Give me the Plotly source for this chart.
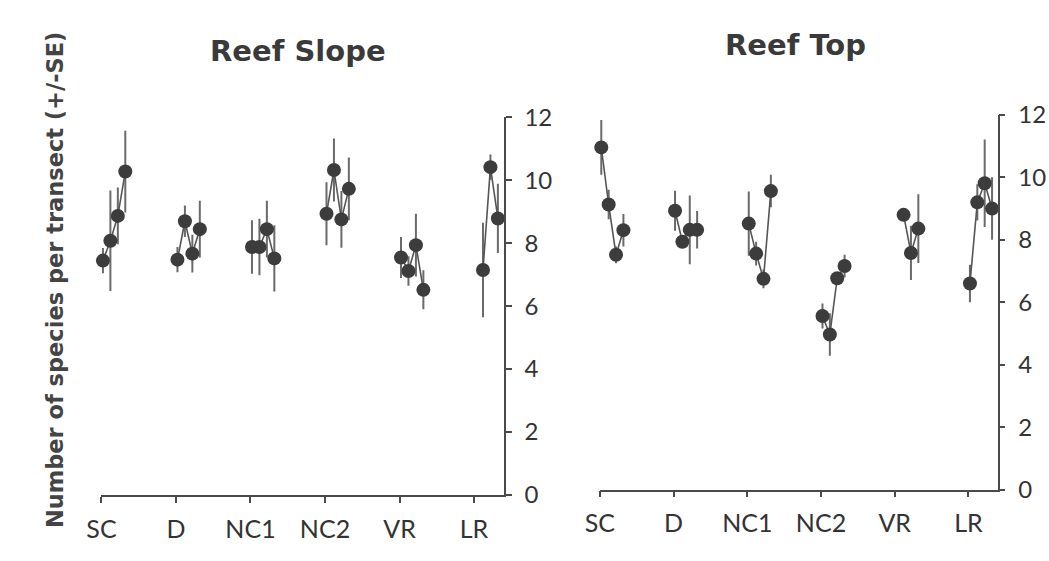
import plotly.graph_objects as go

categories = ["SC", "D", "NC1", "NC2", "VR", "LR"]
offsets = [0.02, 0.12, 0.22, 0.32]
y_ticks = [0, 2, 4, 6, 8, 10, 12]

# Reef Slope: 4 surveys per site (None = not sampled)
slope_mean = [
    [7.45, 8.08, 8.87, 10.28],
    [7.48, 8.70, 7.67, 8.45],
    [7.88, 7.88, 8.45, 7.52],
    [8.94, 10.33, 8.76, 9.73],
    [7.55, 7.12, 7.94, 6.52],
    [None, 7.15, 10.42, 8.79],
]
slope_se = [
    [0.4, 1.6, 0.9, 1.3],
    [0.4, 0.5, 0.6, 0.9],
    [0.85, 0.9, 0.9, 1.05],
    [1.0, 1.0, 0.9, 1.0],
    [0.65, 0.47, 1.0, 0.62],
    [None, 1.5, 0.4, 1.1],
]

# Reef Top
top_mean = [
    [10.96, 9.13, 7.52, 8.31],
    [8.93, 7.94, 8.32, 8.32],
    [8.52, 7.56, 6.75, 9.56],
    [5.56, 4.97, 6.77, 7.16],
    [None, 8.80, 7.58, 8.36],
    [6.60, 9.20, 9.81, 9.00],
]
top_se = [
    [0.88, 0.47, 0.27, 0.52],
    [0.64, 0.15, 1.1, 0.6],
    [1.03, 0.38, 0.3, 0.52],
    [0.4, 0.68, 0.15, 0.36],
    [None, 0.1, 0.87, 1.1],
    [0.6, 0.58, 1.4, 1.0],
]


def flatten(means, ses):
    xs, ys, es = [], [], []
    for gi, (mrow, srow) in enumerate(zip(means, ses)):
        for j, (m, s) in enumerate(zip(mrow, srow)):
            xs.append(gi + offsets[j])
            ys.append(m)
            es.append(s if s is not None else 0)
        xs.append(None)
        ys.append(None)
        es.append(0)
    return xs, ys, es


MARK = "#3c3c3c"
LINE = "#555555"
ERR = "#6a6a6a"
AX = "#4a4a4a"
TXT = "#333333"
FONT = "Lato"

fig = go.Figure()
for means, ses, xa, ya in [(slope_mean, slope_se, "x", "y"), (top_mean, top_se, "x2", "y2")]:
    xs, ys, es = flatten(means, ses)
    fig.add_trace(go.Scatter(
        x=xs, y=ys, xaxis=xa, yaxis=ya, mode="lines+markers",
        line=dict(color=LINE, width=1.6),
        marker=dict(color=MARK, size=14),
        error_y=dict(type="data", array=es, symmetric=True, color=ERR, thickness=2, width=0),
        connectgaps=False, showlegend=False, cliponaxis=False,
    ))

W, H = 1049, 561
L_dom_x = [87.7 / W, 496 / W]
L_dom_y = [(H - 505) / H, (H - 107) / H]
R_dom_x = [593.3 / W, 997 / W]
R_dom_y = [(H - 499.5) / H, (H - 104.3) / H]
xr = [0, (496 - 87.7) / 75.6]
xr2 = [0, (997 - 593.3) / 74.8]


def xaxis(dom, anchor, rng, ticks, labels):
    return dict(domain=dom, anchor=anchor, range=rng, showgrid=False, zeroline=False,
                showline=True, linecolor=AX, linewidth=1.5,
                tickmode="array", tickvals=list(range(len(categories))), ticktext=categories,
                ticks=ticks, ticklen=6, tickwidth=1.5, tickcolor=AX,
                showticklabels=labels, ticklabelstandoff=5,
                tickfont=dict(family=FONT, size=25, color=TXT))


def yaxis(dom, anchor, ticks, labels):
    return dict(domain=dom, anchor=anchor, side="right", range=[0, 12], showgrid=False, zeroline=False,
                showline=True, linecolor=AX, linewidth=1.5,
                tickmode="array", tickvals=y_ticks, ticktext=[str(v) for v in y_ticks],
                ticks=ticks, ticklen=6, tickwidth=1.5, tickcolor=AX,
                showticklabels=labels, ticklabelstandoff=8,
                tickfont=dict(family=FONT, size=24, color=TXT))


fig.update_layout(
    width=W, height=H, margin=dict(l=0, r=0, t=0, b=0),
    paper_bgcolor="white", plot_bgcolor="white",
    xaxis=xaxis(L_dom_x, "y", xr, "outside", True),
    yaxis=yaxis(L_dom_y, "x", "outside", True),
    xaxis2=xaxis(R_dom_x, "y2", xr2, "outside", True),
    yaxis2=yaxis(R_dom_y, "x2", "outside", True),
    xaxis3={**xaxis(L_dom_x, "y", xr, "inside", False), "overlaying": "x"},
    yaxis3={**yaxis(L_dom_y, "x", "inside", False), "overlaying": "y"},
    xaxis4={**xaxis(R_dom_x, "y2", xr2, "inside", False), "overlaying": "x2"},
    yaxis4={**yaxis(R_dom_y, "x2", "inside", False), "overlaying": "y2"},
    annotations=[
        dict(text="<b>Reef Slope</b>", x=287 / W, y=1 - 37 / H, xref="paper", yref="paper",
             showarrow=False, font=dict(family="DejaVu Sans", size=29, color="#3a3a3a"),
             xanchor="center", yanchor="middle"),
        dict(text="<b>Reef Top</b>", x=792 / W, y=1 - 31 / H, xref="paper", yref="paper",
             showarrow=False, font=dict(family="DejaVu Sans", size=29, color="#3a3a3a"),
             xanchor="center", yanchor="middle"),
        dict(text="<b>Number of species per transect (+/-SE)</b>", x=40 / W, y=1 - 278 / H,
             xref="paper", yref="paper", textangle=-90, showarrow=False,
             font=dict(family="DejaVu Sans", size=22.5, color="#444444"),
             xanchor="center", yanchor="middle"),
    ],
)

fig.write_html("out.html", config={"displayModeBar": False},
               post_script="document.body.style.margin='0';document.body.style.overflow='hidden';")
